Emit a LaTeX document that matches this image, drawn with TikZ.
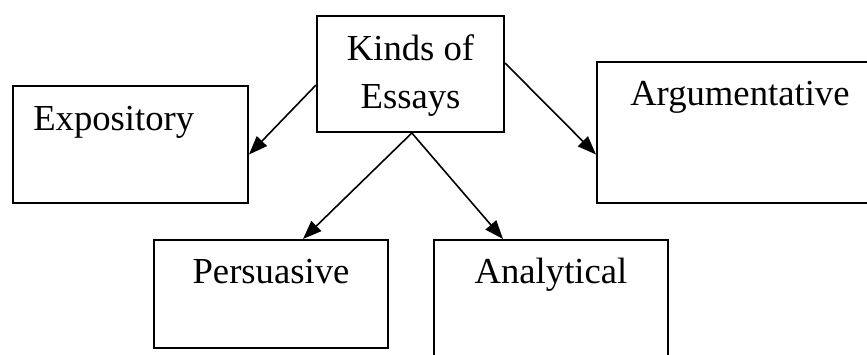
\documentclass[tikz,border=0pt]{standalone}
\usepackage{fontspec}
\setmainfont{Liberation Serif}
\usetikzlibrary{arrows.meta}
\begin{document}
\begin{tikzpicture}[x=0.75pt,y=-0.75pt,
  box/.style={draw=black,line width=1.5pt,rectangle,inner sep=0pt,fill=none},
  lbl/.style={inner sep=0pt,font=\fontsize{27.5pt}{36pt}\selectfont},
  conn/.style={draw=black,line width=1.2pt,-{Triangle[length=14pt,width=10.5pt]}}]
\useasboundingbox (0,0) rectangle (867,354);
\node[box,minimum width=140.25pt,minimum height=87pt] (kinds) at (410.5,74) {};
\node[box,minimum width=176.25pt,minimum height=87.75pt] (expo) at (130.5,144.5) {};
\node[box,minimum width=204.75pt,minimum height=105.75pt] (argu) at (733.5,132.5) {};
\node[box,minimum width=175.5pt,minimum height=81pt] (pers) at (271,294) {};
\node[box,minimum width=175.5pt,minimum height=90pt] (anal) at (551,300) {};
\node[lbl,anchor=base] (t1) at (410.5,60) {Kinds of};
\node[lbl,anchor=base] (t2) at (410.5,108) {Essays};
\node[lbl,anchor=base west] (t3) at (33,130) {Expository};
\node[lbl,anchor=base west] (t4) at (630,105) {Argumentative};
\node[lbl,anchor=base] (t5) at (271,283) {Persuasive};
\node[lbl,anchor=base] (t6) at (551,283) {Analytical};
\draw[conn] ([yshift=-8.25pt]kinds.west) -- ([yshift=-7.5pt]expo.east);
\draw[conn] ([yshift=8.25pt]kinds.east) -- ([yshift=-16.5pt]argu.west);
\draw[conn] ([xshift=1pt]kinds.south) -- ([xshift=24pt]pers.north);
\draw[conn] ([xshift=1pt]kinds.south) -- ([xshift=-36pt]anal.north);
\end{tikzpicture}
\end{document}
